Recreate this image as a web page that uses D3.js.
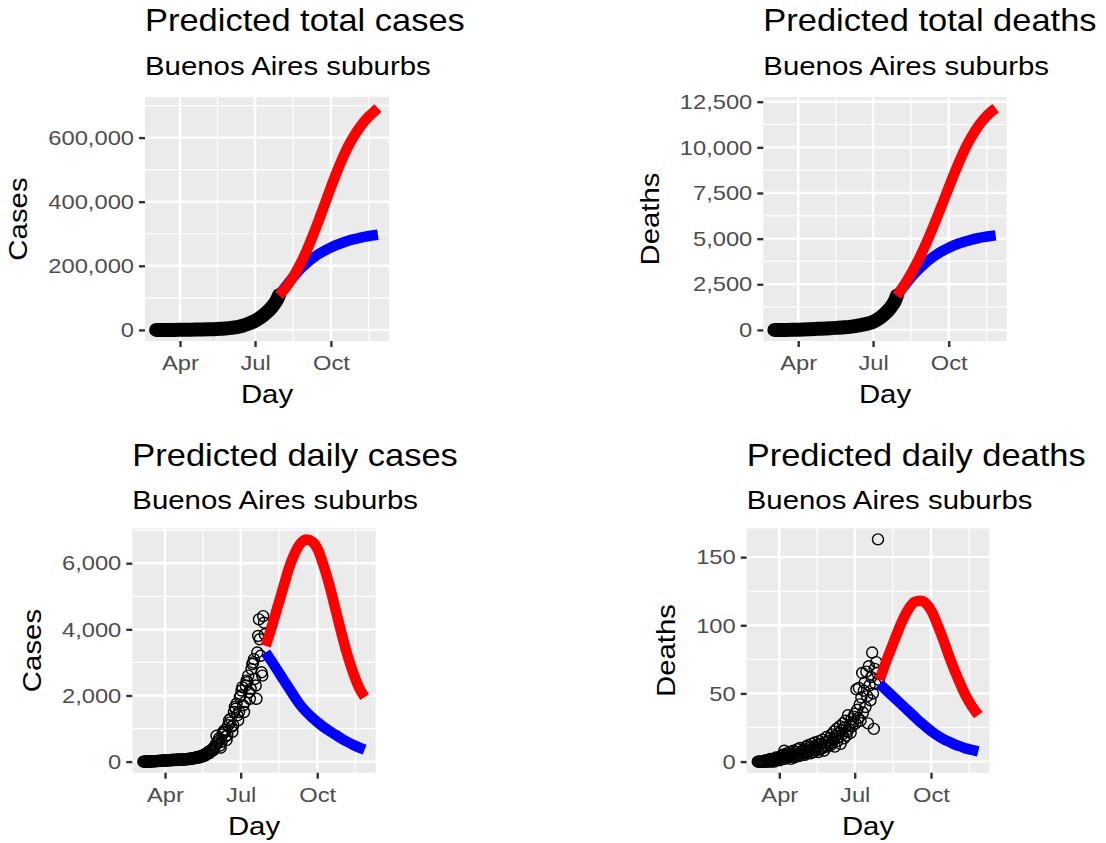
<!DOCTYPE html>
<html>
<head>
<meta charset="utf-8">
<script src="https://cdn.jsdelivr.net/npm/d3@7"></script>
<style>
  body { margin: 0; background: #fff; }
  text { font-family: "Liberation Sans", Arial, sans-serif; }
</style>
</head>
<body>
<svg id="chart" width="1106" height="843"></svg>
<script>
// ---- data ----
const region = "Buenos Aires suburbs";
const titles = ["Predicted total cases", "Predicted total deaths", "Predicted daily cases", "Predicted daily deaths"];
const yTitles = ["Cases", "Deaths", "Cases", "Deaths"];
const xTitle = "Day";
const monthTicks = ["2020-04-01", "2020-07-01", "2020-10-01"];
const monthLabels = ["Apr", "Jul", "Oct"];
// major breaks extended by one step, used for the minor grid
const monthBreaks = ["2020-01-01", "2020-04-01", "2020-07-01", "2020-10-01", "2021-01-01"];

const totalCasesTicks = [0, 200000, 400000, 600000];
const totalDeathsTicks = [0, 2500, 5000, 7500, 10000, 12500];
const dailyCasesTicks = [0, 2000, 4000, 6000];
const dailyDeathsTicks = [0, 50, 100, 150];

// observed cumulative totals (weekly)
const totalDates = ["2020-03-03", "2020-03-10", "2020-03-17", "2020-03-24", "2020-03-31",
  "2020-04-07", "2020-04-14", "2020-04-21", "2020-04-28", "2020-05-05", "2020-05-12",
  "2020-05-19", "2020-05-26", "2020-06-02", "2020-06-09", "2020-06-16", "2020-06-23",
  "2020-06-30", "2020-07-07", "2020-07-14", "2020-07-21", "2020-07-28", "2020-07-30"];
const totalCases = [0, 3, 20, 80, 200, 400, 650, 950, 1300, 1750, 2400, 3300, 4600, 6300,
  8700, 13000, 19000, 27000, 38000, 52000, 70000, 96000, 108000];
const totalDeaths = [0, 0, 1, 3, 8, 20, 35, 50, 65, 80, 98, 118, 140, 165, 210, 265, 330,
  420, 590, 830, 1150, 1640, 1880];

// projected totals: red = high scenario, blue = low scenario
const projTotalDates = ["2020-07-30", "2020-08-06", "2020-08-13", "2020-08-20", "2020-08-27",
  "2020-09-03", "2020-09-10", "2020-09-17", "2020-09-24", "2020-10-01", "2020-10-08",
  "2020-10-15", "2020-10-22", "2020-10-29", "2020-11-05", "2020-11-12", "2020-11-19", "2020-11-27"];
const totalCasesHigh = [108000, 128000, 153000, 182000, 216000, 256000, 300000, 347000, 396000,
  445000, 492000, 535000, 573000, 605000, 632000, 655000, 673000, 692000];
const totalCasesLow = [108000, 132000, 155000, 176000, 195000, 212000, 226000, 238000, 248000,
  257000, 265000, 272000, 278000, 283000, 287000, 291000, 294000, 297000];
const totalDeathsHigh = [1880, 2330, 2830, 3390, 4010, 4690, 5420, 6190, 6990, 7800, 8590,
  9340, 10030, 10600, 11100, 11520, 11850, 12150];
const totalDeathsLow = [1880, 2300, 2700, 3060, 3390, 3680, 3930, 4150, 4340, 4500, 4640,
  4760, 4860, 4950, 5020, 5080, 5130, 5180];

// observed daily counts, one per day from dailyStart
const dailyStart = "2020-03-06";
const dailyCases = [
  0, 0, 1, 0, 2, 1, 3, 2, 5, 4, 6, 9, 8, 12, 10, 15, 14, 19, 17, 22, 25, 21, 28, 26, 33, 30,
  35, 28, 40, 33, 45, 38, 42, 50, 36, 55, 47, 52, 44, 58, 49, 62, 54, 60, 51, 66, 70, 59, 64, 72, 61, 75, 68, 80, 73, 84,
  90, 78, 95, 102, 88, 110, 120, 105, 128, 140, 115, 150, 135, 160, 172, 150, 190, 205, 180, 230, 215, 260, 290, 250, 320, 300, 350, 380, 340, 420, 460,
  520, 780, 560, 620, 700, 480, 420, 600, 820, 900, 880, 960, 760, 650, 800, 1100, 1250, 1180, 1300, 1050, 900, 1100, 1500, 1650, 1600, 1750, 1400, 1250, 1500, 1950,
  2000, 2150, 2250, 1700, 1500, 1800, 2300, 2450, 2400, 2600, 2100, 1900, 2200, 2800, 2950, 3000, 3100, 2500, 2300, 1900, 3300, 3800, 4300, 3700, 3200, 2700, 2600, 4400, 4200, 3850];
const dailyDeaths = [
  0, 0, 0, 0, 0, 0, 0, 0, 0, 0, 1, 0, 0, 1, 0, 2, 1, 0, 1, 2, 0, 1, 3, 2, 1, 2,
  3, 1, 4, 2, 5, 3, 8, 2, 4, 6, 3, 5, 7, 4, 2, 6, 5, 8, 3, 4, 7, 5, 9, 6, 4, 10, 7, 5, 8, 6,
  9, 5, 11, 7, 6, 12, 8, 10, 6, 13, 9, 7, 11, 14, 8, 10, 12, 7, 15, 9, 13, 11, 16, 10, 8, 14, 12, 18, 11, 15, 13,
  17, 12, 20, 14, 16, 22, 11, 19, 24, 15, 18, 21, 26, 13, 23, 20, 28, 17, 25, 30, 19, 22, 34, 24, 27, 21, 31, 26, 29, 33,
  35, 28, 53, 38, 32, 54, 42, 30, 47, 65, 36, 52, 58, 40, 66, 48, 28, 70, 56, 45, 62, 80, 50, 24, 68, 57, 73, 65, 163, 60];

// projected daily counts (weekly)
const projDailyDates = ["2020-07-31", "2020-08-07", "2020-08-14", "2020-08-21", "2020-08-28",
  "2020-09-04", "2020-09-11", "2020-09-18", "2020-09-25", "2020-10-02", "2020-10-09",
  "2020-10-16", "2020-10-23", "2020-10-30", "2020-11-06", "2020-11-13", "2020-11-20", "2020-11-27"];
const dailyCasesHigh = [3500, 4050, 4650, 5250, 5850, 6300, 6600, 6720, 6650, 6400, 5900,
  5300, 4600, 3900, 3250, 2700, 2250, 1950];
const dailyCasesLow = [3300, 3040, 2770, 2490, 2220, 1950, 1700, 1500, 1330, 1180, 1040,
  920, 810, 700, 600, 510, 430, 360];
const dailyDeathsHigh = [60, 72, 83, 94, 104, 112, 117, 118, 116, 110, 100, 89, 77, 66, 56, 47, 40, 34];
const dailyDeathsLow = [57, 53, 49, 45, 41, 37, 33, 29, 25.5, 22, 19, 16.5, 14.5, 12.5, 11, 9.5, 8.5, 7.5];

// ---- drawing ----
const svg = d3.select("#chart");
const parse = d3.timeParse("%Y-%m-%d");
const fmt = d3.format(",");
const sx = 1.13; // the fonts in the picture run a bit wider than Arial

const dailyDates = dailyCases.map((d, i) => d3.timeDay.offset(parse(dailyStart), i));

const panels = [
  { left: 145, top: 97, width: 244, height: 244, titleY: 31, subY: 75,
    title: titles[0], yTitle: yTitles[0], obsDates: totalDates.map(parse), obs: totalCases,
    projDates: projTotalDates.map(parse), hi: totalCasesHigh, lo: totalCasesLow,
    yTicks: totalCasesTicks, points: false },
  { left: 763.3, top: 97, width: 243.4, height: 244, titleY: 31, subY: 75,
    title: titles[1], yTitle: yTitles[1], obsDates: totalDates.map(parse), obs: totalDeaths,
    projDates: projTotalDates.map(parse), hi: totalDeathsHigh, lo: totalDeathsLow,
    yTicks: totalDeathsTicks, points: false },
  { left: 132.3, top: 528.3, width: 243.4, height: 244.4, titleY: 465.5, subY: 509,
    title: titles[2], yTitle: yTitles[2], obsDates: dailyDates, obs: dailyCases,
    projDates: projDailyDates.map(parse), hi: dailyCasesHigh, lo: dailyCasesLow,
    yTicks: dailyCasesTicks, points: true },
  { left: 746.7, top: 528.3, width: 242.6, height: 244.4, titleY: 465.5, subY: 509,
    title: titles[3], yTitle: yTitles[3], obsDates: dailyDates, obs: dailyDeaths,
    projDates: projDailyDates.map(parse), hi: dailyDeathsHigh, lo: dailyDeathsLow,
    yTicks: dailyDeathsTicks, points: true }
];

function addText(parent, x, y, str, size, anchor, color, rotate) {
  return parent.append("text")
    .attr("transform", `translate(${x},${y})` + (rotate ? " rotate(-90)" : "") + ` scale(${sx},1)`)
    .attr("text-anchor", anchor)
    .attr("font-size", size)
    .attr("fill", color)
    .text(str);
}

panels.forEach(p => {
  const g = svg.append("g").attr("transform", `translate(${p.left},${p.top})`);

  // ggplot style 5% expansion on both scales
  const xExt = d3.extent(p.obsDates.concat(p.projDates));
  const xPad = (xExt[1] - xExt[0]) * 0.05;
  const x = d3.scaleTime()
    .domain([new Date(+xExt[0] - xPad), new Date(+xExt[1] + xPad)])
    .range([0, p.width]);
  const yExt = d3.extent(p.obs.concat(p.hi, p.lo));
  const yPad = (yExt[1] - yExt[0]) * 0.05;
  const y = d3.scaleLinear()
    .domain([yExt[0] - yPad, yExt[1] + yPad])
    .range([p.height, 0]);

  g.append("rect")
    .attr("width", p.width)
    .attr("height", p.height)
    .attr("fill", "#EBEBEB");

  // minor grid
  const yStep = p.yTicks[1] - p.yTicks[0];
  const yMinor = [p.yTicks[0] - yStep / 2].concat(p.yTicks.map(t => t + yStep / 2))
    .filter(v => v > y.domain()[0] && v < y.domain()[1]);
  const xMinor = d3.pairs(monthBreaks.map(parse))
    .map(([a, b]) => new Date((+a + +b) / 2))
    .filter(d => d > x.domain()[0] && d < x.domain()[1]);

  g.selectAll(".ymin").data(yMinor).enter().append("line")
    .attr("x1", 0).attr("x2", p.width)
    .attr("y1", d => y(d)).attr("y2", d => y(d))
    .attr("stroke", "#fff").attr("stroke-width", 1.2);
  g.selectAll(".xmin").data(xMinor).enter().append("line")
    .attr("y1", 0).attr("y2", p.height)
    .attr("x1", d => x(d)).attr("x2", d => x(d))
    .attr("stroke", "#fff").attr("stroke-width", 1.2);

  // major grid
  g.selectAll(".ymaj").data(p.yTicks).enter().append("line")
    .attr("x1", 0).attr("x2", p.width)
    .attr("y1", d => y(d)).attr("y2", d => y(d))
    .attr("stroke", "#fff").attr("stroke-width", 2.4);
  g.selectAll(".xmaj").data(monthTicks.map(parse)).enter().append("line")
    .attr("y1", 0).attr("y2", p.height)
    .attr("x1", d => x(d)).attr("x2", d => x(d))
    .attr("stroke", "#fff").attr("stroke-width", 2.4);

  const obsData = p.obs.map((v, i) => ({ date: p.obsDates[i], value: v }));
  const line = d3.line()
    .x(d => x(d.date))
    .y(d => y(d.value))
    .curve(d3.curveMonotoneX);

  if (p.points) {
    g.selectAll(".pt").data(obsData).enter().append("circle")
      .attr("cx", d => x(d.date))
      .attr("cy", d => y(d.value))
      .attr("r", 5.5)
      .attr("fill", "none")
      .attr("stroke", "#000")
      .attr("stroke-width", 1.4);
  } else {
    g.append("path")
      .datum(obsData)
      .attr("d", line)
      .attr("fill", "none")
      .attr("stroke", "#000")
      .attr("stroke-width", 14)
      .attr("stroke-linecap", "round")
      .attr("stroke-linejoin", "round");
  }

  [[p.lo, "#0000FF"], [p.hi, "#FF0000"]].forEach(([vals, col]) => {
    g.append("path")
      .datum(vals.map((v, i) => ({ date: p.projDates[i], value: v })))
      .attr("d", line)
      .attr("fill", "none")
      .attr("stroke", col)
      .attr("stroke-width", 10.5)
      .attr("stroke-linejoin", "round");
  });

  // axes
  const yAxis = g.append("g")
    .call(d3.axisLeft(y).tickValues(p.yTicks).tickFormat(fmt).tickSize(6).tickPadding(5));
  const xAxis = g.append("g")
    .attr("transform", `translate(0,${p.height})`)
    .call(d3.axisBottom(x).tickValues(monthTicks.map(parse))
      .tickFormat((d, i) => monthLabels[i]).tickSize(6).tickPadding(8));

  [yAxis, xAxis].forEach(ax => {
    ax.attr("font-family", null).attr("font-size", null);
    ax.select(".domain").remove();
    ax.selectAll("line").attr("stroke", "#333333").attr("stroke-width", 2.4);
    ax.selectAll("text").attr("fill", "#4D4D4D").attr("font-size", 21);
  });
  yAxis.selectAll("text")
    .attr("x", -11 / sx)
    .attr("transform", `scale(${sx},1)`);
  xAxis.selectAll("text")
    .attr("transform", `scale(${sx},1)`);

  const maxW = d3.max(yAxis.selectAll("text").nodes(), n => n.getComputedTextLength()) * sx;

  // titles
  addText(g, -11 - maxW - 30 + 9, p.height / 2, p.yTitle, 26, "middle", "#000", true);
  addText(g, p.width / 2, p.height + 62, xTitle, 26, "middle", "#000");
  addText(svg, p.left, p.titleY, p.title, 30.5, "start", "#000");
  addText(svg, p.left, p.subY, region, 26, "start", "#000");
});
</script>
</body>
</html>
